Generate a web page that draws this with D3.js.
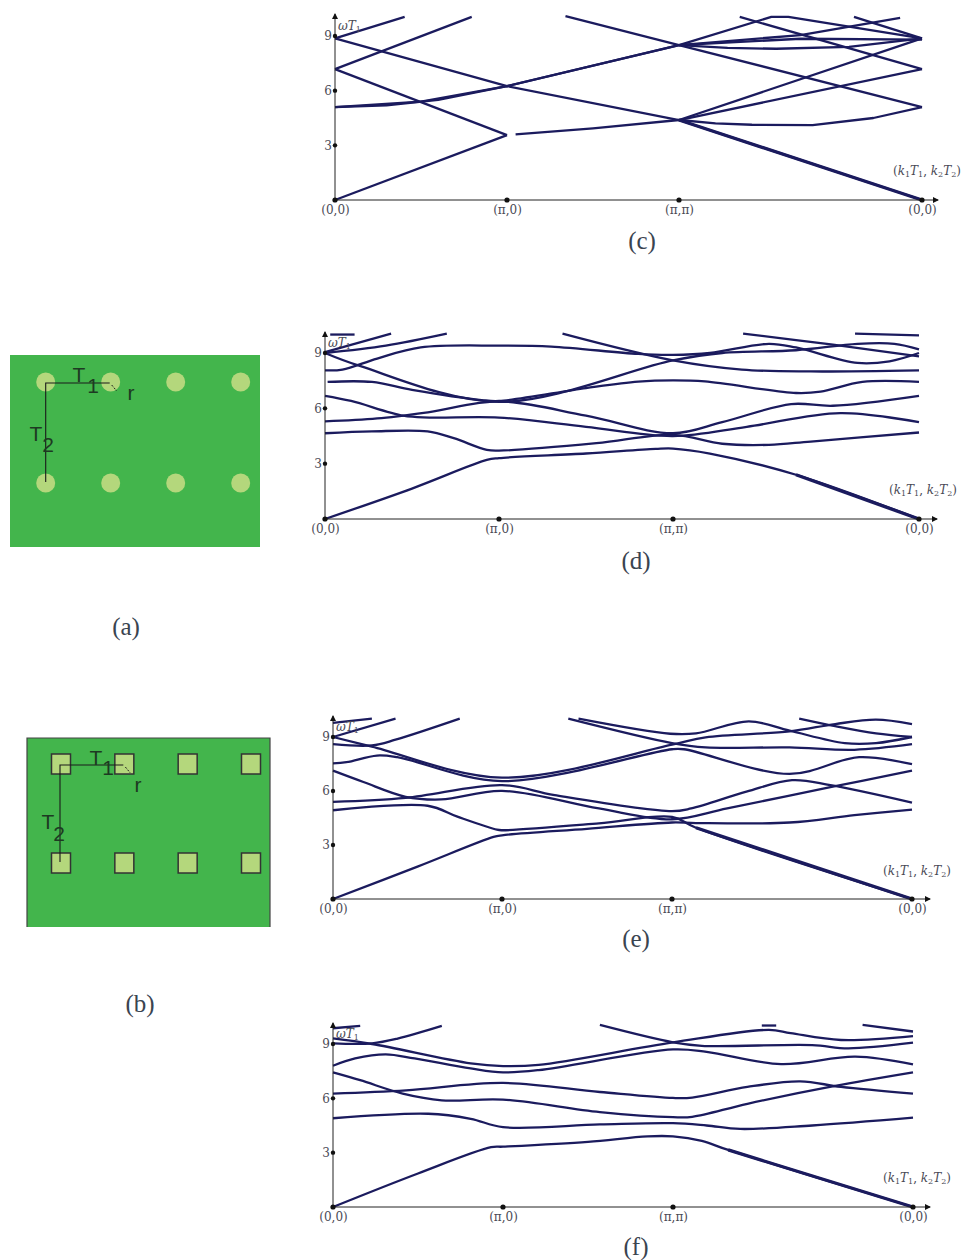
<!DOCTYPE html>
<html>
<head>
<meta charset="utf-8">
<style>
  html, body { margin: 0; padding: 0; background: #fff; }
  svg { display: block; }
  .tick-label { font-family: "DejaVu Serif", serif; font-size: 12px; fill: #4a4a55; }
  .caption { font-family: "Liberation Serif", serif; font-size: 25px; fill: #3a4450; text-anchor: middle; }
  .band { fill: none; stroke: #1b1b5e; stroke-width: 2.3; stroke-linejoin: round; }
  .band-heavy { stroke-width: 3.3; }
  .cell-label { font-family: "Liberation Sans", sans-serif; font-size: 21px; fill: #1d3a22; }
</style>
</head>
<body>
<div id="mydiv"></div>
<script src="https://d3js.org/d3.v7.min.js"></script>
<script>
let width = 968, height = 1260;

// Tick labels along the k path and the frequency axis
const pathPositions = [0, 1, 2, 3];
const pathLabels = ["(0,0)", "(\u03c0,0)", "(\u03c0,\u03c0)", "(0,0)"];
const freqTicks = [3, 6, 9];

// Lattice sites, in units of T1 and T2
const latticeCols = [0, 1, 2, 3];
const latticeRows = [0, 1];

// Bands: [position along path, omega T1]
const bandsC = [
  [[0,0],[1,3.56]],
  [[1.05,3.6],[1.5,3.93],[2,4.39],[3,0]],
  [[0,5.1],[0.3,5.2],[0.6,5.5],[1,6.25],[2,8.5],[2.38,10.05],[2.45,10.05],[3,8.87]],
  [[0,5.1],[0.5,5.4],[1,6.25],[2,4.39],[3,8.87]],
  [[0,8.87],[1,6.25],[2,8.5],[3,5.1]],
  [[0,8.87],[0.405,10.05]],
  [[0,7.18],[0.795,10.05]],
  [[0,7.18],[1,3.56]],
  [[1.34,10.09],[2,8.5]],
  [[2,4.39],[3,7.18]],
  [[2,4.39],[2.15,4.2],[2.3,4.13],[2.55,4.11],[2.8,4.5],[3,5.1]],
  [[2.25,10.05],[3,7.18]],
  [[2.72,10.05],[3,8.87]],
  [[2,8.5],[2.5,9.05],[2.91,10]],
  [[2,8.5],[2.2,8.35],[2.4,8.3],[2.7,8.4],[3,8.87]],
  [[2,8.5],[2.5,8.85],[3,8.8]]
];
const bandsD = [
  [[0,0],[0.5,1.65],[0.93,3.2],[1,3.3],[1.5,3.55],[1.9,3.8],[2,3.82],[2.15,3.55],[2.5,2.4],[3,0]],
  [[0,4.65],[0.27,4.75],[0.59,4.75],[0.74,4.38],[0.93,3.75],[1,3.71],[1.56,4.11],[2,4.56],[2.2,4.08],[2.39,4.02],[2.56,4.2],[3,4.69]],
  [[0,5.29],[0.3,5.45],[0.6,5.8],[1,6.38],[1.5,5.6],[2,4.65],[2.2,5.25],[2.48,6.23],[2.65,6.14],[3,6.68]],
  [[0,6.68],[0.15,6.4],[0.45,5.6],[0.6,5.5],[1,5.5],[1.5,5],[2,4.5],[2.3,5],[2.68,5.74],[3,5.25]],
  [[0.015,7.43],[0.27,7.43],[0.5,7],[0.9,6.45],[1,6.4],[1.5,7.1],[1.8,7.45],[2,7.52],[2.13,7.46],[2.5,6.83],[2.6,6.9],[2.77,7.43],[3,7.43]],
  [[0,8.06],[0.1,8.1],[0.3,8.7],[0.55,9.3],[1,9.4],[1.3,9.35],[1.8,8.95],[2,8.9],[2.15,9],[2.39,9.5],[2.5,9.3],[2.75,8.46],[2.88,8.55],[3,9]],
  [[0,9],[0.2,8.3],[1,6.35],[2,8.6],[2.2,9],[2.5,9.15],[2.75,9.5],[2.9,9.5],[3,9.2]],
  [[0,9],[0.35,9.4],[0.7,10.05]],
  [[0,9.05],[0.38,10.05]],
  [[1.365,10.05],[2,8.6],[2.28,8.1],[2.56,8],[3,8.06]],
  [[2.285,10.05],[2.65,9.45],[3,8.82]],
  [[2.74,10.05],[3,9.96]],
  [[0.03,10],[0.17,10]]
];
const bandsE = [
  [[0,0],[0.5,1.8],[0.95,3.45],[1,3.54],[1.5,3.9],[2,4.25],[2.1,4.22],[2.49,4.25],[2.76,4.66],[3,4.97]],
  [[0,4.93],[0.56,5.18],[0.74,4.56],[0.97,3.85],[1,3.82],[1.57,4.2],[2,4.56],[2.1,3.96],[3,0]],
  [[0,5.4],[0.43,5.62],[1,6.33],[1.31,5.77],[2,4.88],[2.08,5.03],[2.31,5.96],[2.5,6.6],[2.66,6.33],[3,5.36]],
  [[0,7.13],[0.18,6.5],[0.43,5.68],[0.64,5.53],[1,6.01],[1.57,5.03],[2,4.43],[2.23,5.03],[2.67,6.24],[3,7.13]],
  [[0,7.54],[0.08,7.6],[0.26,7.97],[0.38,7.88],[1,6.55],[2,8.32],[2.05,8.32],[2.49,6.95],[2.78,7.88],[3,7.49]],
  [[0,8.6],[0.23,8.53],[0.37,8.85],[0.75,10.02]],
  [[0,9],[0.23,8.47],[1,6.74],[2,8.57],[2.14,8.98],[2.49,9.31],[2.68,9.72],[2.85,9.96],[3,9.72]],
  [[0,9],[0.37,10.02]],
  [[0,9.78],[0.23,10.02]],
  [[1.39,10.02],[2,8.66],[2.14,8.42],[2.49,8.42],[2.76,8.29],[3,8.6]],
  [[1.45,10.02],[1.99,9.18],[2.1,9.2],[2.32,9.87],[2.49,9.35],[2.72,8.66],[2.85,8.66],[3,9]],
  [[2.53,10.02],[2.68,9.6],[2.85,9.2],[3,9]]
];
const bandsF = [
  [[0,0],[0.5,1.85],[0.93,3.3],[1,3.33],[1.5,3.6],[1.85,3.9],[2,3.9],[2.12,3.65],[2.23,3.15],[3,0]],
  [[0,4.9],[0.56,5.15],[0.81,4.87],[1,4.41],[1.57,4.56],[2,4.63],[2.14,4.5],[2.28,4.31],[2.58,4.5],[3,4.93]],
  [[0,6.26],[0.43,6.44],[1,6.85],[1.57,6.35],[2,6.02],[2.08,6.04],[2.31,6.63],[2.53,6.94],[2.7,6.63],[3,6.26]],
  [[0,7.43],[0.16,7],[0.41,6.26],[0.64,5.89],[1,5.93],[1.57,5.24],[2,4.96],[2.08,4.98],[2.31,5.7],[2.67,6.67],[3,7.43]],
  [[0,7.8],[0.13,8.2],[0.31,8.43],[0.48,8.2],[0.81,7.65],[1,7.43],[1.21,7.56],[2,8.7],[2.14,8.57],[2.45,7.89],[2.76,8.3],[3,7.87]],
  [[0,9.04],[0.23,9.04],[0.38,9.3],[0.64,10]],
  [[0,9.31],[0.23,9],[0.81,7.93],[1,7.78],[1.21,7.85],[2,9.09],[2.4,9.78],[2.49,9.6],[2.7,9.22],[3,9.44]],
  [[1.57,10.05],[2,9.09],[2.12,8.9],[2.58,8.94],[2.73,8.76],[3,9.07]],
  [[2.79,10.05],[3,9.69]],
  [[0,9.87],[0.16,10]],
  [[2.37,10.02],[2.43,10.02]]
];

let svg = d3.select("#mydiv").append("svg")
  .attr("width", width)
  .attr("height", height)
  .attr("viewBox", "0 0 " + width + " " + height);

let defs = svg.append("defs");
defs.append("marker")
  .attr("id", "arrow")
  .attr("viewBox", "0 0 6 6")
  .attr("refX", 5).attr("refY", 3)
  .attr("markerWidth", 6).attr("markerHeight", 6)
  .attr("markerUnits", "userSpaceOnUse")
  .attr("orient", "auto")
  .append("path").attr("d", "M0,0L6,3L0,6Z").attr("fill", "#111");

function drawPanel(bands, box) {
  let x = d3.scaleLinear().domain(pathPositions).range(box.xs);
  let y = d3.scaleLinear().domain([0, 9]).range([box.y0, box.y9]);
  let line = d3.line()
    .x(d => x(d[0]))
    .y(d => y(d[1]))
    .curve(box.curve);

  let g = svg.append("g");

  g.selectAll("path.band")
    .data(bands)
    .enter()
    .append("path")
    .attr("class", "band")
    .attr("d", line);

  // the acoustic band coming back to zero is printed heavier on the last stretch
  let backToZero = bands.find(b => b[b.length - 1][1] === 0);
  g.append("path")
    .attr("class", "band band-heavy")
    .attr("d", line(backToZero.slice(-2)));

  // axes, ticks are the black dots so the axis generators only place labels
  let xAxis = g.append("g")
    .attr("transform", "translate(0," + box.y0 + ")")
    .call(d3.axisBottom(x).tickValues(pathPositions).tickSize(0).tickPadding(5)
      .tickFormat((d, i) => pathLabels[i]));
  xAxis.select(".domain").remove();
  xAxis.selectAll("text").attr("class", "tick-label").attr("fill", null);

  let yAxis = g.append("g")
    .attr("transform", "translate(" + box.xs[0] + ",0)")
    .call(d3.axisLeft(y).tickValues(freqTicks).tickSize(0).tickPadding(3));
  yAxis.select(".domain").remove();
  yAxis.selectAll("text").attr("class", "tick-label").attr("fill", null);

  g.append("line")
    .attr("x1", box.xs[0]).attr("y1", box.y0)
    .attr("x2", box.xEnd).attr("y2", box.y0)
    .attr("stroke", "#222").attr("stroke-width", 1)
    .attr("marker-end", "url(#arrow)");
  g.append("line")
    .attr("x1", box.xs[0]).attr("y1", box.y0)
    .attr("x2", box.xs[0]).attr("y2", box.yTop)
    .attr("stroke", "#222").attr("stroke-width", 1)
    .attr("marker-end", "url(#arrow)");

  g.selectAll("circle.xdot").data(pathPositions).enter().append("circle")
    .attr("cx", d => x(d)).attr("cy", box.y0).attr("r", 2.6).attr("fill", "#111");
  g.selectAll("circle.ydot").data(freqTicks).enter().append("circle")
    .attr("cx", box.xs[0]).attr("cy", d => y(d)).attr("r", 2.2).attr("fill", "#111");

  g.append("text")
    .attr("class", "tick-label")
    .attr("x", box.xs[0] + 3)
    .attr("y", y(9) - 6)
    .html('<tspan font-style="italic">\u03c9T</tspan><tspan dy="2" font-size="8">1</tspan>');

  g.append("text")
    .attr("class", "tick-label")
    .attr("x", box.kx)
    .attr("y", box.ky)
    .html('(<tspan font-style="italic">k</tspan><tspan dy="2" font-size="8">1</tspan>' +
      '<tspan dy="-2" font-style="italic">T</tspan><tspan dy="2" font-size="8">1</tspan>' +
      '<tspan dy="-2">, </tspan><tspan font-style="italic">k</tspan><tspan dy="2" font-size="8">2</tspan>' +
      '<tspan dy="-2" font-style="italic">T</tspan><tspan dy="2" font-size="8">2</tspan><tspan dy="-2">)</tspan>');
}

const smooth = d3.curveCatmullRom.alpha(0.5);
drawPanel(bandsC, { xs: [335, 507, 679, 922], y0: 200, y9: 36, xEnd: 938, yTop: 14, kx: 893, ky: 175, curve: d3.curveLinear });
drawPanel(bandsD, { xs: [325, 499, 673, 919], y0: 519, y9: 353, xEnd: 937, yTop: 332, kx: 889, ky: 494, curve: smooth });
drawPanel(bandsE, { xs: [333, 502, 672, 912], y0: 899, y9: 737, xEnd: 930, yTop: 716, kx: 883, ky: 875, curve: smooth });
drawPanel(bandsF, { xs: [333, 503, 673, 913], y0: 1207, y9: 1044, xEnd: 930, yTop: 1023, kx: 883, ky: 1182, curve: smooth });

function drawCell(cell) {
  let cx = d3.scaleLinear().domain([0, 3]).range(cell.xRange);
  let cy = d3.scaleLinear().domain([0, 1]).range(cell.yRange);
  let g = svg.append("g");

  g.append("rect")
    .attr("x", cell.x).attr("y", cell.y)
    .attr("width", cell.w).attr("height", cell.h)
    .attr("fill", "#43b54c");

  let sites = d3.cross(latticeCols, latticeRows);
  if (cell.square) {
    g.append("path")
      .attr("d", "M" + cell.x + "," + (cell.y + cell.h) + "V" + cell.y + "H" + (cell.x + cell.w) + "V" + (cell.y + cell.h))
      .attr("fill", "none").attr("stroke", "#444").attr("stroke-width", 1.2);
    g.selectAll("rect.site").data(sites).enter().append("rect")
      .attr("x", d => cx(d[0]) - 9.5).attr("y", d => cy(d[1]) - 10)
      .attr("width", 19).attr("height", 20)
      .attr("fill", "#b4d77c").attr("stroke", "#333").attr("stroke-width", 1.5);
  } else {
    g.selectAll("circle.site").data(sites).enter().append("circle")
      .attr("cx", d => cx(d[0])).attr("cy", d => cy(d[1])).attr("r", 9.5)
      .attr("fill", "#b4d77c");
  }

  // lattice vectors T1, T2 and the radius
  let ax = cell.square ? cx(0) - 1 : cx(0);
  let ay = cy(0) + 1;
  g.append("path")
    .attr("d", "M" + (cx(1) - 1) + "," + ay + "H" + ax + "V" + (cy(1) - 1))
    .attr("fill", "none").attr("stroke", "#1a1a1a").attr("stroke-width", 1.1);
  g.append("line")
    .attr("x1", cx(1) + 1).attr("y1", ay + 2)
    .attr("x2", cx(1) + 6).attr("y2", ay + 8)
    .attr("stroke", "#1a1a1a").attr("stroke-width", 1)
    .attr("stroke-dasharray", "2,1.5");

  cell.labels.forEach(l => {
    g.append("text").attr("class", "cell-label")
      .attr("x", l[1]).attr("y", l[2]).attr("text-anchor", "middle").text(l[0]);
  });
}

drawCell({
  x: 10, y: 355, w: 250, h: 192, xRange: [45.7, 240.7], yRange: [382, 483], square: false,
  labels: [["T", 79, 382], ["1", 93, 393], ["r", 131, 400], ["T", 36, 441], ["2", 48, 452]]
});
drawCell({
  x: 27, y: 738, w: 243, h: 189, xRange: [61, 251], yRange: [764, 863], square: true,
  labels: [["T", 96, 765], ["1", 108, 775], ["r", 138, 792], ["T", 48, 829], ["2", 59, 841]]
});

const captions = [["(a)", 126, 635], ["(b)", 140, 1012], ["(c)", 642, 249], ["(d)", 636, 569], ["(e)", 636, 947], ["(f)", 636, 1255]];
svg.selectAll("text.caption")
  .data(captions)
  .enter()
  .append("text")
  .attr("class", "caption")
  .attr("x", d => d[1])
  .attr("y", d => d[2])
  .text(d => d[0]);
</script>
</body>
</html>
